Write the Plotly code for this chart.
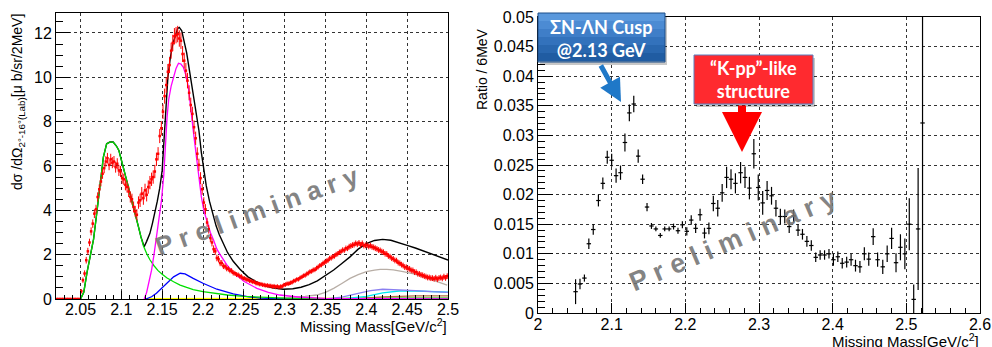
import plotly.graph_objects as go

W, H = 992, 347
def px(x): return x / W
def py(y): return 1 - y / H

# ---------------- Left panel data (2 MeV bins) ----------------
mm_left = [round(2.021 + 0.002 * i, 3) for i in range(240)]  # bin centres (axis categories)
xs_zero = [0.0] * 15
xs_vals = xs_zero + [
    0.35, 0.85, 1.15, 1.75, 2.15,
    2.55, 3.05, 3.4, 3.85, 4.05,
    4.6, 4.95, 5.3, 5.65, 5.9,
    6.2, 6.35, 6.05, 6.3, 6.15,
    6.2, 5.95, 6.1, 5.8, 5.75,
    5.45, 5.4, 5.15, 5.05, 4.85,
    4.6, 4.5, 4.15, 3.95, 3.8,
    4.35, 4.45, 4.75, 4.55, 4.9,
    4.7, 5.05, 5.25, 5.4, 5.5,
    5.75, 6.3, 6.55, 7.35, 7.7,
    8.45, 9.15, 9.65, 10.25, 10.55,
    11.2, 11.55, 11.85, 11.9, 11.95,
    11.75, 11.65, 11.05, 10.75, 10.3,
    9.85, 9.3, 8.75, 8.35, 7.75,
    7.25, 6.55, 6.05, 5.45, 4.95,
    4.35, 4.05, 3.45, 3.15, 2.75,
    2.55, 2.25, 2.15, 1.85, 1.8,
    1.62, 1.62, 1.48, 1.47, 1.38,
    1.36, 1.28, 1.27, 1.18, 1.16,
    1.1, 1.09, 1.03, 1.01, 0.94,
    0.93, 0.88, 0.87, 0.82, 0.81,
    0.77, 0.77, 0.71, 0.71, 0.67,
    0.67, 0.64, 0.63, 0.61, 0.61,
    0.59, 0.59, 0.56, 0.58, 0.54,
    0.57, 0.53, 0.56, 0.57, 0.63,
    0.65, 0.69, 0.69, 0.73, 0.75,
    0.81, 0.83, 0.89, 0.89, 0.96,
    0.99, 1.05, 1.07, 1.13, 1.17,
    1.23, 1.25, 1.31, 1.32, 1.39,
    1.44, 1.51, 1.54, 1.61, 1.65,
    1.71, 1.74, 1.83, 1.85, 1.91,
    1.94, 2.01, 2.04, 2.11, 2.14,
    2.21, 2.2, 2.29, 2.28, 2.36,
    2.39, 2.43, 2.45, 2.51, 2.47,
    2.53, 2.44, 2.51, 2.41, 2.42,
    2.43, 2.37, 2.41, 2.35, 2.33,
    2.29, 2.26, 2.21, 2.19, 2.14,
    2.11, 2.04, 2.03, 1.94, 1.91,
    1.84, 1.81, 1.74, 1.73, 1.64,
    1.61, 1.55, 1.51, 1.44, 1.43,
    1.37, 1.36, 1.29, 1.29, 1.21,
    1.21, 1.14, 1.13, 1.09, 1.07,
    1.03, 1.01, 0.97, 0.97, 0.94,
    0.94, 0.91, 0.96, 0.89, 0.95,
    0.97, 0.93, 1.01, 0.95, 1.03,
]
xs_errs = xs_zero + [
    0.10, 0.12, 0.14, 0.15, 0.16,
    0.17, 0.18, 0.19, 0.20, 0.20,
    0.21, 0.22, 0.22, 0.23, 0.23,
    0.24, 0.24, 0.24, 0.25, 0.25,
    0.25, 0.25, 0.25, 0.25, 0.25,
    0.25, 0.25, 0.25, 0.25, 0.25,
    0.25, 0.25, 0.25, 0.25, 0.25,
    0.28, 0.30, 0.30, 0.30, 0.30,
    0.30, 0.30, 0.30, 0.30, 0.30,
    0.30, 0.30, 0.30, 0.32, 0.32,
    0.33, 0.34, 0.35, 0.35, 0.36,
    0.36, 0.37, 0.37, 0.37, 0.37,
    0.37, 0.37, 0.36, 0.36, 0.35,
    0.35, 0.34, 0.33, 0.32, 0.31,
    0.30, 0.29, 0.28, 0.27, 0.25,
    0.24, 0.23, 0.21, 0.20, 0.19,
    0.18, 0.17, 0.16, 0.15, 0.15,
    0.14, 0.14, 0.13, 0.13, 0.13,
    0.12, 0.12, 0.12, 0.12, 0.11,
    0.11, 0.11, 0.11, 0.11, 0.10,
    0.10, 0.10, 0.10, 0.10, 0.10,
    0.10, 0.10, 0.10, 0.10, 0.10,
    0.10, 0.10, 0.10, 0.10, 0.10,
    0.10, 0.10, 0.10, 0.10, 0.10,
    0.10, 0.10, 0.10, 0.10, 0.10,
    0.10, 0.10, 0.10, 0.10, 0.10,
    0.10, 0.10, 0.10, 0.10, 0.10,
    0.10, 0.10, 0.11, 0.11, 0.11,
    0.11, 0.11, 0.11, 0.11, 0.11,
    0.11, 0.11, 0.11, 0.12, 0.12,
    0.12, 0.12, 0.12, 0.12, 0.12,
    0.12, 0.12, 0.12, 0.12, 0.12,
    0.12, 0.12, 0.12, 0.12, 0.13,
    0.13, 0.13, 0.13, 0.13, 0.13,
    0.13, 0.13, 0.13, 0.13, 0.13,
    0.13, 0.13, 0.13, 0.13, 0.13,
    0.13, 0.13, 0.13, 0.13, 0.13,
    0.13, 0.13, 0.13, 0.13, 0.13,
    0.13, 0.13, 0.13, 0.13, 0.13,
    0.13, 0.13, 0.13, 0.13, 0.13,
    0.13, 0.13, 0.13, 0.13, 0.13,
    0.13, 0.13, 0.13, 0.13, 0.13,
    0.13, 0.13, 0.13, 0.13, 0.13,
    0.13, 0.13, 0.13, 0.13, 0.13,
    0.13, 0.13, 0.13, 0.13, 0.13,
]

# fit components (left panel)
green_x = [2.050, 2.054, 2.058, 2.062, 2.066, 2.070, 2.074, 2.078, 2.082, 2.086, 2.090, 2.094, 2.097,
           2.100, 2.103, 2.106, 2.109, 2.112, 2.115, 2.118, 2.121, 2.124, 2.127, 2.131, 2.135, 2.140,
           2.145, 2.150, 2.156, 2.164, 2.172, 2.180, 2.188, 2.200, 2.212, 2.230, 2.250, 2.270, 2.300,
           2.350, 2.400, 2.500]
green_y = [0.0, 0.3, 1.2, 1.9, 2.7, 3.9, 5.2, 6.4, 7.0, 7.08, 7.08, 6.9, 6.7,
           6.3, 5.9, 5.45, 5.0, 4.55, 4.15, 3.7, 3.25, 2.8, 2.4, 2.05, 1.77, 1.5,
           1.28, 1.12, 0.95, 0.78, 0.63, 0.52, 0.42, 0.33, 0.26, 0.18, 0.12, 0.08, 0.04,
           0.02, 0.01, 0.0]

magenta_x = [2.128, 2.131, 2.134, 2.137, 2.140, 2.143, 2.146, 2.149, 2.152, 2.154, 2.156, 2.158, 2.161,
             2.164, 2.167, 2.170, 2.173, 2.176, 2.179, 2.182, 2.186, 2.189, 2.192, 2.195, 2.198, 2.201,
             2.205, 2.209, 2.213, 2.217, 2.221, 2.229, 2.237, 2.250, 2.266, 2.280, 2.294, 2.319, 2.350,
             2.400, 2.500]
magenta_y = [0.0, 0.3, 0.8, 1.3, 2.0, 2.8, 3.6, 4.4, 5.6, 7.0, 8.2, 9.0, 9.6,
             10.0, 10.4, 10.63, 10.6, 10.45, 10.1, 9.58, 8.1, 7.3, 6.4, 5.5, 4.6, 4.0,
             3.5, 3.0, 2.65, 2.25, 2.0, 1.55, 1.2, 0.8, 0.48, 0.3, 0.18, 0.08, 0.03,
             0.01, 0.0]

black_x = green_x[:23] + [2.128, 2.131, 2.135, 2.138, 2.141, 2.144, 2.147, 2.150, 2.152, 2.155, 2.157,
                          2.160, 2.163, 2.166, 2.169, 2.171, 2.174, 2.177, 2.180, 2.183, 2.186, 2.189,
                          2.192, 2.195, 2.198, 2.201, 2.204, 2.208, 2.212, 2.216, 2.220, 2.225, 2.230,
                          2.237, 2.245, 2.255, 2.265, 2.275, 2.285, 2.298, 2.310, 2.320, 2.330, 2.340,
                          2.350, 2.360, 2.370, 2.380, 2.390, 2.400, 2.410, 2.420, 2.430, 2.440, 2.450,
                          2.460, 2.470, 2.480, 2.490, 2.500]
black_y = green_y[:23] + [2.36, 2.6, 2.96, 3.4, 3.87, 4.4, 5.0, 5.8, 7.0, 9.1, 10.0,
                          10.9, 11.5, 11.85, 12.2, 12.25, 12.1, 11.6, 11.1, 10.4, 9.7, 9.0,
                          8.4, 7.6, 6.6, 5.8, 5.1, 4.4, 3.8, 3.3, 2.9, 2.5, 2.1,
                          1.7, 1.35, 1.0, 0.78, 0.6, 0.5, 0.44, 0.46, 0.53, 0.65, 0.82,
                          1.05, 1.31, 1.6, 1.9, 2.25, 2.5, 2.64, 2.69, 2.65, 2.55, 2.42,
                          2.3, 2.16, 2.02, 1.88, 1.76]

blue_x = [2.130, 2.137, 2.143, 2.150, 2.156, 2.164, 2.172, 2.178, 2.188, 2.200, 2.217, 2.237, 2.256,
          2.270, 2.300, 2.400, 2.500]
blue_y = [0.0, 0.1, 0.26, 0.5, 0.71, 1.0, 1.16, 1.13, 0.93, 0.71, 0.44, 0.23, 0.1,
          0.04, 0.01, 0.0, 0.0]

gray_x = [2.290, 2.307, 2.325, 2.339, 2.350, 2.360, 2.370, 2.380, 2.390, 2.400, 2.410, 2.417, 2.425,
          2.433, 2.445, 2.458, 2.470, 2.482, 2.499]
gray_y = [0.0, 0.08, 0.12, 0.18, 0.3, 0.48, 0.7, 0.93, 1.1, 1.23, 1.3, 1.34, 1.34,
          1.31, 1.23, 1.13, 1.0, 0.86, 0.63]

violet_x = [2.350, 2.370, 2.390, 2.405, 2.420, 2.440, 2.460, 2.480, 2.500]
violet_y = [0.0, 0.08, 0.25, 0.38, 0.44, 0.42, 0.38, 0.33, 0.3]
cyan_x = [2.370, 2.400, 2.420, 2.440, 2.460, 2.480, 2.500]
cyan_y = [0.0, 0.12, 0.28, 0.36, 0.36, 0.33, 0.31]
brown_x = [2.380, 2.420, 2.460, 2.500]
brown_y = [0.0, 0.1, 0.14, 0.14]
lgreen_x = [2.330, 2.380, 2.430, 2.500]
lgreen_y = [0.0, 0.04, 0.06, 0.06]
yellow_x = [2.128, 2.300, 2.400, 2.500]
yellow_y = [0.0, 0.0, 0.01, 0.02]

# ---------------- Right panel data (6 MeV bins) ----------------
mm_right = [2.051, 2.057, 2.063, 2.069, 2.075, 2.082, 2.088, 2.094, 2.100, 2.106,
            2.112, 2.118, 2.124, 2.130, 2.136, 2.142, 2.148, 2.154, 2.160, 2.166,
            2.172, 2.178, 2.184, 2.190, 2.196, 2.202, 2.208, 2.214, 2.220, 2.226,
            2.232, 2.238, 2.244, 2.250, 2.256, 2.262, 2.268, 2.275, 2.281, 2.287,
            2.293, 2.299, 2.305, 2.311, 2.317, 2.323, 2.329, 2.335, 2.341, 2.347,
            2.353, 2.359, 2.365, 2.371, 2.377, 2.383, 2.389, 2.395, 2.401, 2.407,
            2.413, 2.419, 2.425, 2.431, 2.437, 2.443, 2.449, 2.455, 2.461, 2.468,
            2.474, 2.480, 2.486, 2.492, 2.498, 2.504, 2.510, 2.516, 2.522]
ratio = [0.0036, 0.0049, 0.0059, 0.0117, 0.0141, 0.0190, 0.0219, 0.0263, 0.0258, 0.0232,
         0.0237, 0.0288, 0.0338, 0.0353, 0.0265, 0.0226, 0.0179, 0.0147, 0.0142, 0.0131,
         0.0142, 0.0142, 0.0146, 0.0139, 0.0149, 0.0138, 0.0157, 0.0143, 0.0166, 0.0135,
         0.0143, 0.0185, 0.0177, 0.0203, 0.0229, 0.0226, 0.0219, 0.0237, 0.0229, 0.0211,
         0.0269, 0.0212, 0.0186, 0.0207, 0.0198, 0.0177, 0.0163, 0.0163, 0.0146, 0.0164,
         0.0140, 0.0133, 0.0121, 0.0114, 0.0094, 0.0098, 0.0098, 0.0100, 0.0090, 0.0095,
         0.0084, 0.0086, 0.0090, 0.0080, 0.0078, 0.0100, 0.0091, 0.0129, 0.0090, 0.0078,
         0.0100, 0.0126, 0.0085, 0.0111, 0.0100, 0.0150, 0.0023, 0.0142, 0.0321]
ratio_err = [0.0021, 0.0009, 0.0006, 0.0009, 0.0009, 0.0010, 0.0010, 0.0011, 0.0011, 0.0012,
             0.0012, 0.0015, 0.0014, 0.0014, 0.0011, 0.0008, 0.0007, 0.0005, 0.0004, 0.0004,
             0.0004, 0.0004, 0.0005, 0.0005, 0.0006, 0.0007, 0.0008, 0.0008, 0.0010, 0.0009,
             0.0010, 0.0013, 0.0014, 0.0015, 0.0018, 0.0017, 0.0017, 0.0018, 0.0018, 0.0019,
             0.0025, 0.0022, 0.0020, 0.0016, 0.0015, 0.0014, 0.0013, 0.0012, 0.0011, 0.0011,
             0.0010, 0.0009, 0.0009, 0.0009, 0.0008, 0.0008, 0.0008, 0.0008, 0.0010, 0.0009,
             0.0009, 0.0009, 0.0010, 0.0010, 0.0010, 0.0011, 0.0011, 0.0014, 0.0012, 0.0012,
             0.0014, 0.0018, 0.0016, 0.0022, 0.0026, 0.0044, 0.0025, 0.0103, 0.0600]

left_ticks = [2.05, 2.1, 2.15, 2.2, 2.25, 2.3, 2.35, 2.4, 2.45, 2.5]
left_ticktext = ["2.05", "2.1", "2.15", "2.2", "2.25", "2.3", "2.35", "2.4", "2.45", "2.5"]
right_xticks = [2.0, 2.1, 2.2, 2.3, 2.4, 2.5, 2.6]
right_xticktext = ["2", "2.1", "2.2", "2.3", "2.4", "2.5", "2.6"]
right_yticks = [0, 0.005, 0.01, 0.015, 0.02, 0.025, 0.03, 0.035, 0.04, 0.045, 0.05]
right_yticktext = ["0", "0.005", "0.01", "0.015", "0.02", "0.025", "0.03", "0.035", "0.04", "0.045", "0.05"]

FONT = "Liberation Sans, Arial, sans-serif"

fig = go.Figure()

def curve(x, y, color, width=1.3):
    fig.add_trace(go.Scatter(x=x, y=y, mode="lines", line=dict(color=color, width=width),
                             xaxis="x", yaxis="y", hoverinfo="skip"))

curve(black_x, black_y, "#000000", 1.4)
curve(yellow_x, yellow_y, "#ffff00", 2)
curve(lgreen_x, lgreen_y, "#7fd36f", 1.3)
curve(brown_x, brown_y, "#b07040", 1.3)
curve(cyan_x, cyan_y, "#00e8f0", 1.3)
curve(violet_x, violet_y, "#8a7ff0", 1.3)
curve(gray_x, gray_y, "#b8aea6", 1.3)
curve(blue_x, blue_y, "#0000ff", 1.3)
curve(green_x, green_y, "#00e000", 1.3)
curve(magenta_x, magenta_y, "#ff00ff", 1.3)

fig.add_trace(go.Scatter(
    x=mm_left, y=xs_vals, mode="markers", xaxis="x", yaxis="y",
    marker=dict(color="#ff0000", size=2.5, symbol="square"),
    error_y=dict(type="data", array=xs_errs, color="#ff0000", thickness=1, width=0),
    error_x=dict(type="constant", value=0.001, color="#ff0000", thickness=1, width=0),
    hoverinfo="skip"))

fig.add_trace(go.Scatter(
    x=mm_right, y=ratio, mode="markers", xaxis="x2", yaxis="y2",
    marker=dict(color="#000000", size=1),
    error_y=dict(type="data", array=ratio_err, color="#000000", thickness=1.2, width=0),
    error_x=dict(type="constant", value=0.003, color="#000000", thickness=1.2, width=0),
    hoverinfo="skip"))

grid = dict(showgrid=True, gridcolor="#333333", griddash="dot", gridwidth=1, automargin=False,
            showline=True, linecolor="black", linewidth=1, mirror=True, zeroline=False,
            ticks="inside", tickcolor="black", tickfont=dict(family=FONT, size=16, color="black"))

fig.update_layout(
    width=W, height=H, margin=dict(l=0, r=0, t=0, b=0, pad=0, autoexpand=False),
    paper_bgcolor="white", plot_bgcolor="white", showlegend=False,
    font=dict(family=FONT, color="black"),
    xaxis=dict(domain=[px(56), px(448)], range=[2.02, 2.5], anchor="y",
               tickvals=left_ticks, ticktext=left_ticktext, ticklen=8, ticklabelstandoff=-4,
               minor=dict(ticks="inside", ticklen=4, dtick=0.01, tick0=2.0, tickcolor="black", showgrid=False),
               **grid),
    yaxis=dict(domain=[py(299), py(13)], range=[0, 12.9], anchor="x",
               dtick=2, ticklen=14,
               minor=dict(ticks="inside", ticklen=7, dtick=0.5, tickcolor="black", showgrid=False),
               **grid),
    xaxis2=dict(domain=[px(538), px(980)], range=[2.0, 2.6], anchor="y2",
                tickvals=right_xticks, ticktext=right_xticktext, ticklen=10, ticklabelstandoff=-3,
                minor=dict(ticks="inside", ticklen=5, dtick=0.02, tick0=2.0, tickcolor="black", showgrid=False),
                **grid),
    yaxis2=dict(domain=[py(313), py(17)], range=[0, 0.05], anchor="x2",
                tickvals=right_yticks, ticktext=right_yticktext, ticklen=15,
                minor=dict(ticks="inside", ticklen=7, dtick=0.001, tickcolor="black", showgrid=False),
                **grid),
)

# callout box backgrounds (shadow + vertical gradient for the blue one)
shapes = []
def rect(x0, y0, x1, y1, fill, line=None, lw=0):
    shapes.append(dict(type="rect", xref="paper", yref="paper", layer="above",
                       x0=px(x0), x1=px(x1), y0=py(y1), y1=py(y0), fillcolor=fill,
                       line=dict(color=line or fill, width=lw)))

rect(540, 16, 667, 65, "rgba(0,0,0,0.22)")
blue_steps = ["#5a98dc", "#4c8bd3", "#3f7ec8", "#3372bc", "#2967af", "#205ca2"]
for i, c in enumerate(blue_steps):
    rect(538, 13 + i * 8, 665, 13 + (i + 1) * 8 + 0.5, c)
rect(538, 13, 665, 62, "rgba(0,0,0,0)", "#1d4f8a", 1)
rect(696, 58, 815, 107, "rgba(0,0,0,0.22)")
rect(694, 55, 813, 104, "#ff2a2f", "#5a7fbf", 1)

def A(**kw):
    d = dict(xref="paper", yref="paper", xanchor="center", yanchor="middle", showarrow=False)
    d.update(kw)
    return d

ann = []
# axis titles
ann.append(A(text="dσ /dΩ<sub>2°-16°(Lab)</sub>[μ b/sr/2MeV]", textangle=-90,
             x=px(18), y=py(12), yanchor="top", font=dict(family=FONT, size=14, color="black")))
ann.append(A(text="Missing Mass[GeV/c<sup>2</sup>]", x=px(449), y=py(325), xanchor="right",
             font=dict(family=FONT, size=15, color="black")))
ann.append(A(text="Ratio / 6MeV", textangle=-90, x=px(482), y=py(26), yanchor="top",
             font=dict(family=FONT, size=14, color="black")))
ann.append(A(text="Missing Mass[GeV/c<sup>2</sup>]", x=px(981), y=py(340), xanchor="right",
             font=dict(family=FONT, size=15, color="black")))
# watermarks
ann.append(A(text="<b>P r e l i m i n a r y</b>", textangle=-20, x=px(257), y=py(211),
             font=dict(family=FONT, size=26, color="rgba(115,115,115,0.88)")))
ann.append(A(text="<b>P r e l i m i n a r y</b>", textangle=-23, x=px(733), y=py(240),
             font=dict(family=FONT, size=27, color="rgba(115,115,115,0.88)")))
# callout texts
ann.append(A(text="<b>ΣN-ΛN Cusp<br>@2.13 GeV</b>", x=px(601), y=py(38), align="center",
             font=dict(family="Lato, Open Sans, sans-serif", size=18, color="white")))
ann.append(A(text="<b>“K-pp”-like<br>structure</b>", x=px(753), y=py(79), align="center",
             font=dict(family="Lato, Open Sans, sans-serif", size=18, color="white")))
# arrows
ann.append(dict(text="", x=px(621), y=py(102), xref="paper", yref="paper", ax=-21, ay=-38,
                showarrow=True, arrowhead=2, arrowsize=0.9, arrowwidth=5, arrowcolor="#1f78c8"))
ann.append(dict(text="", x=px(742), y=py(152), xref="paper", yref="paper", ax=0, ay=-48,
                showarrow=True, arrowhead=2, arrowsize=1.0, arrowwidth=8, arrowcolor="#ff0000"))

fig.update_layout(annotations=ann, shapes=shapes)
fig.write_html("out.html", config={"displayModeBar": False},
               post_script="document.body.style.margin='0';document.body.style.overflow='hidden';")
